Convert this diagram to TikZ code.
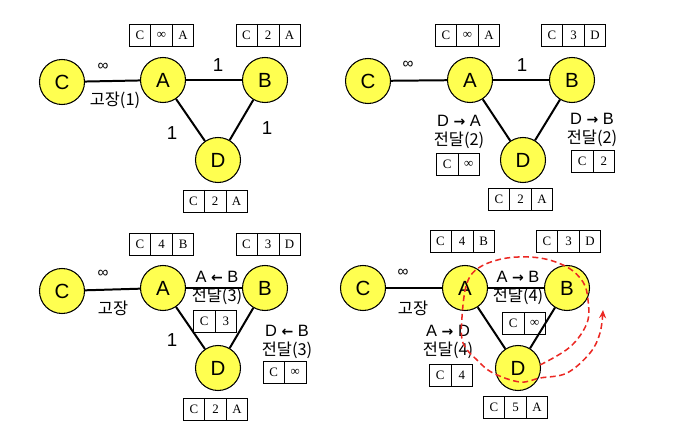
\documentclass[tikz,border=0pt]{standalone}
\usepackage{fontspec}
\setmainfont{Liberation Sans}
\newfontfamily\kr{Noto Sans CJK KR}
\newfontfamily\tabserif{Liberation Serif}
\newfontfamily\arrfont{DejaVu Sans Bold}
\usetikzlibrary{shapes,arrows.meta}

\definecolor{nodeyellow}{RGB}{255,255,80}
\definecolor{lossred}{RGB}{235,40,35}

\newcommand{\cell}[1]{\makebox[0.63cm]{#1}}
\newcommand{\rarr}{{\arrfont\fontsize{12}{14}\selectfont →}}
\newcommand{\larr}{{\arrfont\fontsize{12}{14}\selectfont ←}}

\begin{document}
\begin{tikzpicture}[x=0.03cm, y=-0.03cm,
        router/.style = {
            circle,
            draw,
            line width=0.9pt,
            fill=nodeyellow,
            minimum size=1.35cm,
            inner sep=0pt,
            font=\fontsize{17.5}{20}\selectfont
        },
        link/.style = {line width=1.7pt},
        cost/.style = {inner sep=0pt, font=\fontsize{16}{19}\selectfont},
        inf/.style = {inner sep=0pt, font=\fontsize{13}{15}\selectfont},
        note/.style = {align=center, inner sep=0pt, font=\fontsize{14}{17}\selectfont},
        tab/.style = {
            draw,
            line width=0.5pt,
            rectangle split,
            rectangle split horizontal,
            rectangle split parts=3,
            inner sep=0pt,
            minimum height=0.66cm,
            font=\tabserif\fontsize{11}{13}\selectfont
        },
        tabtwo/.style = {tab, rectangle split parts=2},
        resend/.style = {draw=lossred, line width=1.3pt, dash pattern=on 5pt off 3pt,
            -{Stealth[length=7pt,width=6pt]}}
    ]

        \useasboundingbox (0,0) rectangle (684,428);

        % (1) link failure
        \node[router] (c1) at (62,82) {C};
        \node[router] (a1) at (163,80) {A};
        \node[router] (b1) at (265,80) {B};
        \node[router] (d1) at (218,160) {D};

        \draw[link] (c1) -- (a1) node[inf, midway, shift={(-9.5,-14.5)}] {∞}
            node[note, midway, shift={(2.5,19.5)}] {\kr 고장(1)};
        \draw[link] (a1) -- (b1) node[cost, midway, shift={(4,-15)}] {1};
        \draw[link] (a1) -- (d1) node[cost, midway, shift={(-18.5,13)}] {1};
        \draw[link] (b1) -- (d1) node[cost, midway, shift={(25.5,8)}] {1};

        \node[tab] (ta1) at (161.5,35) {\cell{C}\nodepart{two}\cell{∞}\nodepart{three}\cell{A}};
        \node[tab] (tb1) at (268,35) {\cell{C}\nodepart{two}\cell{2}\nodepart{three}\cell{A}};
        \node[tab] (td1) at (215,201) {\cell{C}\nodepart{two}\cell{2}\nodepart{three}\cell{A}};

        % (2) D sends its table
        \node[router] (c2) at (368,81) {C};
        \node[router] (a2) at (470,80) {A};
        \node[router] (b2) at (572,80) {B};
        \node[router] (d2) at (523,160) {D};

        \draw[link] (c2) -- (a2) node[inf, midway, shift={(-11,-15.5)}] {∞};
        \draw[link] (a2) -- (b2) node[cost, midway, shift={(1,-15)}] {1};
        \draw[link] (a2) -- (d2);
        \draw[link] (b2) -- (d2);

        \node[tab] (ta2) at (467.5,35) {\cell{C}\nodepart{two}\cell{∞}\nodepart{three}\cell{A}};
        \node[tab] (tb2) at (573.5,35) {\cell{C}\nodepart{two}\cell{3}\nodepart{three}\cell{D}};
        \node[tab] (td2) at (520.5,199.5) {\cell{C}\nodepart{two}\cell{2}\nodepart{three}\cell{A}};

        \node[note] (na2) at (459,132) {D \rarr{} A\\{\kr 전달(2)}};
        \node[tabtwo] (sa2) at (458,164.5) {\cell{C}\nodepart{two}\cell{∞}};
        \node[note] (nb2) at (592,130) {D \rarr{} B\\{\kr 전달(2)}};
        \node[tabtwo] (sb2) at (593,161.5) {\cell{C}\nodepart{two}\cell{2}};

        % (3) B sends its table
        \node[router] (c3) at (62,291) {C};
        \node[router] (a3) at (163,288) {A};
        \node[router] (b3) at (265,288) {B};
        \node[router] (d3) at (218,368) {D};

        \draw[link] (c3) -- (a3) node[inf, midway, shift={(-9.5,-15.5)}] {∞}
            node[note, midway, shift={(0.5,18.5)}] {\kr 고장};
        \draw[link] (a3) -- (b3);
        \draw[link] (a3) -- (d3) node[cost, midway, shift={(-18.5,12)}] {1};
        \draw[link] (b3) -- (d3);

        \node[tab] (ta3) at (161.5,244.5) {\cell{C}\nodepart{two}\cell{4}\nodepart{three}\cell{B}};
        \node[tab] (tb3) at (268,244.5) {\cell{C}\nodepart{two}\cell{3}\nodepart{three}\cell{D}};
        \node[tab] (td3) at (215.5,409) {\cell{C}\nodepart{two}\cell{2}\nodepart{three}\cell{A}};

        \node[note] (na3) at (217,288) {A \larr{} B\\{\kr 전달(3)}};
        \node[tabtwo] (sa3) at (215,321.5) {\cell{C}\nodepart{two}\cell{3}};
        \node[note] (nd3) at (287,342) {D \larr{} B\\{\kr 전달(3)}};
        \node[tabtwo] (sd3) at (284.5,372) {\cell{C}\nodepart{two}\cell{∞}};

        % (4) A sends its table, count to infinity
        \node[router] (c4) at (363,288) {C};
        \node[router] (a4) at (465,288) {A};
        \node[router] (b4) at (567,288) {B};
        \node[router] (d4) at (518,368) {D};

        \draw[link] (c4) -- (a4) node[inf, midway, shift={(-11,-15)}] {∞}
            node[note, midway, shift={(-1,20)}] {\kr 고장};
        \draw[link] (a4) -- (b4);
        \draw[link] (a4) -- (d4);
        \draw[link] (b4) -- (d4);

        \node[tab] (ta4) at (462,241.5) {\cell{C}\nodepart{two}\cell{4}\nodepart{three}\cell{B}};
        \node[tab] (tb4) at (568.5,241.5) {\cell{C}\nodepart{two}\cell{3}\nodepart{three}\cell{D}};
        \node[tab] (td4) at (515.5,407.5) {\cell{C}\nodepart{two}\cell{5}\nodepart{three}\cell{A}};

        \node[note] (nb4) at (518,288) {A \rarr{} B\\{\kr 전달(4)}};
        \node[tabtwo] (sb4) at (524,323) {\cell{C}\nodepart{two}\cell{∞}};
        \node[note] (nd4) at (448,342) {A \rarr{} D\\{\kr 전달(4)}};
        \node[tabtwo] (sd4) at (451,375.5) {\cell{C}\nodepart{two}\cell{4}};

        \draw[resend] plot[smooth, tension=0.6] coordinates {
            (540,365) (570,347) (587,323) (588,300) (583,282) (567,267)
            (540,258) (507,258) (480,267) (467,283) (462,317) (463,343)
            (477,360) (493,373) (520,382) (540,378) (567,373) (590,353)
            (600,333) (603,310)};
    \end{tikzpicture}
\end{document}
